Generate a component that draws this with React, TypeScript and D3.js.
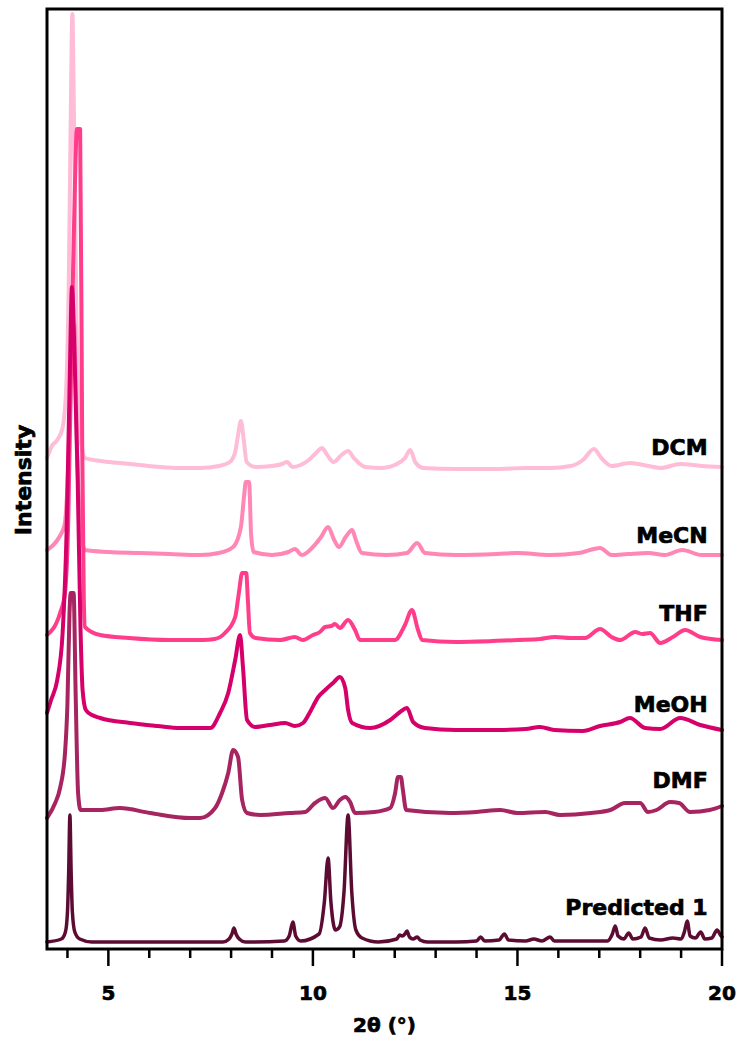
import React from 'react';
import * as d3 from 'd3';

// Powder X-ray diffraction patterns of sample 1 recovered from different solvents,
// stacked vertically and compared with the pattern predicted from the crystal structure.

const W = 740;
const H = 1038;
const plot = { left: 47, right: 722, top: 9, bottom: 949 };

const sampleNames = ['DCM', 'MeCN', 'THF', 'MeOH', 'DMF', 'Predicted 1'];
// vertical stacking offset of each pattern (intensity units)
const stackOffsets = [481, 394, 309, 219, 136, 7];

const thetaDomain = [3.5, 20];
const intensityDomain = [0, 940];
const majorTicks = [5, 10, 15, 20];
const minorTicks = [4, 6, 7, 8, 9, 11, 12, 13, 14, 16, 17, 18, 19];

// [2θ (°), intensity above the pattern's own baseline]
const dcmPattern: [number, number][] = [
  [3.5, 10], [3.62, 22], [3.75, 28], [3.88, 40], [3.97, 80], [4.03, 180], [4.08, 350], [4.12, 454],
  [4.16, 350], [4.22, 150], [4.3, 40], [4.38, 14], [4.43, 10], [4.8, 7], [5.28, 5], [5.77, 3],
  [6.26, 1], [6.75, 0], [7.24, 0], [7.7, 2], [7.97, 6], [8.1, 16], [8.17, 33], [8.24, 47],
  [8.31, 28], [8.38, 6], [8.6, 1], [9.0, 2], [9.25, 4], [9.37, 6], [9.5, 1], [9.7, 3],
  [9.9, 8], [10.1, 16], [10.22, 20], [10.35, 13], [10.5, 6], [10.7, 13], [10.86, 17], [11.0, 10],
  [11.28, 1], [11.7, 0], [12.0, 3], [12.25, 10], [12.38, 18], [12.5, 6], [12.7, 0], [13.5, -1],
  [14.5, -1], [15.2, 0], [15.8, 0], [16.3, 2], [16.6, 8], [16.87, 19], [17.05, 10], [17.3, 2],
  [17.75, 5], [18.2, 2], [18.5, 0], [18.98, 4], [19.5, 2], [20, 1],
];

const mecnPattern: [number, number][] = [
  [3.5, 5], [3.8, 18], [3.93, 30], [4.0, 70], [4.06, 140], [4.12, 230], [4.17, 230], [4.22, 130],
  [4.3, 40], [4.37, 12], [4.43, 5], [5.0, 3], [5.77, 2], [6.5, 1], [7.24, 0], [7.7, 2],
  [8.05, 8], [8.24, 28], [8.32, 60], [8.36, 73], [8.44, 73], [8.49, 20], [8.55, 3], [9.0, 0],
  [9.4, 3], [9.56, 6], [9.73, 0], [10.0, 8], [10.2, 18], [10.37, 28], [10.52, 15], [10.64, 8],
  [10.8, 18], [10.96, 25], [11.05, 15], [11.2, 2], [11.8, 0], [12.3, 2], [12.55, 12], [12.74, 2],
  [13.5, 0], [14.5, 1], [15.0, 2], [15.8, 0], [16.5, 2], [17.02, 7], [17.3, 0], [17.7, 1],
  [18.2, 2], [18.6, 0], [19.03, 5], [19.5, 0], [20, 0],
];

const thfPattern: [number, number][] = [
  [3.5, 5], [3.82, 27], [3.94, 47], [4.02, 120], [4.1, 300], [4.18, 450], [4.23, 511], [4.31, 511],
  [4.36, 200], [4.4, 40], [4.43, 13], [4.8, 5], [5.5, 2], [6.5, 0], [7.3, 0], [7.6, 1],
  [7.85, 7], [8.1, 23], [8.19, 47], [8.27, 67], [8.37, 67], [8.41, 40], [8.46, 7], [8.6, 2],
  [9.2, 0], [9.56, 3], [9.75, 0], [10.0, 5], [10.17, 8], [10.3, 13], [10.45, 14], [10.54, 16],
  [10.66, 12], [10.86, 20], [11.03, 10], [11.15, 0], [12.0, 0], [12.25, 15], [12.42, 30], [12.57, 10],
  [12.67, 0], [13.5, -2], [15.0, 0], [15.55, 1], [15.92, 3], [16.3, 2], [16.65, 2], [17.02, 11],
  [17.3, 3], [17.51, 0], [17.88, 8], [18.05, 6], [18.24, 7], [18.49, -3], [18.8, 3], [19.1, 10],
  [19.47, 3], [20, 0],
];

const meohPattern: [number, number][] = [
  [3.5, 17], [3.6, 30], [3.75, 50], [3.88, 96], [3.98, 200], [4.06, 360], [4.11, 443], [4.17, 380],
  [4.25, 250], [4.32, 100], [4.37, 40], [4.45, 20], [4.6, 15], [4.8, 12], [5.53, 7], [6.2, 4],
  [6.75, 2], [7.49, 2], [7.73, 17], [7.93, 37], [8.1, 70], [8.22, 95], [8.29, 63], [8.39, 10],
  [8.59, 3], [8.95, 5], [9.32, 7], [9.56, 4], [9.76, 7], [9.93, 18], [10.13, 33], [10.3, 40],
  [10.49, 47], [10.66, 53], [10.79, 42], [10.86, 20], [10.96, 7], [11.4, 2], [11.89, 10], [12.13, 18],
  [12.3, 22], [12.45, 8], [12.74, 2], [13.5, 0], [14.5, 0], [15.2, 1], [15.55, 3], [15.9, 0],
  [16.6, -1], [17.02, 4], [17.51, 8], [17.75, 12], [18.12, 2], [18.49, 1], [18.98, 12], [19.47, 5],
  [20, 0],
];

const dmfPattern: [number, number][] = [
  [3.5, -5], [3.7, 10], [3.82, 25], [3.94, 60], [4.0, 110], [4.05, 200], [4.08, 220], [4.15, 220],
  [4.2, 120], [4.26, 20], [4.32, 3], [4.8, 3], [5.28, 5], [6.02, 0], [7.0, -5], [7.24, -5],
  [7.61, 5], [7.78, 20], [7.93, 40], [8.05, 63], [8.17, 56], [8.27, 13], [8.39, 0], [8.71, -2],
  [9.44, 0], [9.81, 1], [10.05, 10], [10.3, 15], [10.49, 5], [10.66, 13], [10.79, 16], [10.91, 11],
  [11.03, 0], [11.5, 1], [11.89, 5], [12.01, 20], [12.08, 36], [12.15, 36], [12.2, 23], [12.28, 3],
  [13.35, 0], [14.0, 1], [14.58, 3], [15.0, 0], [15.68, 1], [16.04, -2], [16.8, 0], [17.27, 3],
  [17.63, 10], [18.0, 10], [18.19, 1], [18.4, 3], [18.73, 11], [18.95, 10], [19.22, 1], [19.7, 3],
  [20, 7],
];

const predictedPattern: [number, number][] = [
  [3.5, 0], [3.85, 3], [3.95, 10], [4.0, 30], [4.03, 70], [4.06, 127], [4.09, 70], [4.12, 30],
  [4.18, 10], [4.3, 3], [4.6, 0], [7.8, 0], [7.95, 3], [8.02, 8], [8.07, 14], [8.12, 8],
  [8.2, 3], [8.35, 0], [9.3, 1], [9.42, 6], [9.51, 20], [9.58, 6], [9.7, 1], [10.15, 8],
  [10.28, 40], [10.37, 84], [10.44, 40], [10.55, 12], [10.65, 15], [10.76, 50], [10.86, 127], [10.95, 50],
  [11.05, 12], [11.2, 4], [11.6, 0], [12.05, 3], [12.12, 7], [12.18, 6], [12.25, 8], [12.3, 11],
  [12.36, 5], [12.45, 3], [12.55, 5], [12.62, 2], [12.8, 0], [13.5, 0], [14.0, 1], [14.1, 5],
  [14.2, 1], [14.55, 2], [14.68, 8], [14.78, 2], [15.2, 1], [15.4, 3], [15.6, 1], [15.8, 5],
  [15.9, 1], [17.2, 1], [17.32, 8], [17.39, 16], [17.46, 6], [17.6, 3], [17.72, 9], [17.82, 3],
  [18.02, 5], [18.12, 14], [18.22, 4], [18.5, 2], [18.8, 4], [19.0, 3], [19.08, 10], [19.15, 21],
  [19.22, 6], [19.35, 4], [19.48, 10], [19.58, 3], [19.75, 4], [19.88, 12], [19.96, 7], [20, 5],
];

const patterns = [dcmPattern, mecnPattern, thfPattern, meohPattern, dmfPattern, predictedPattern];

// styling
const traceColors = ['#ffbcd6', '#ff86b5', '#ff3d8b', '#d6006a', '#a6245f', '#5c0b33'];
const traceWidths = [4, 4, 4, 4, 4, 3.5];
const labelLift = [13, 12, 19, 18, 25, 27];
const FONT = '"DejaVu Sans", "Liberation Sans", Arial, sans-serif';
// a thin outline thickens the bold face into a heavy black weight
const heavy = { stroke: '#000', strokeWidth: 0.7, paintOrder: 'stroke' as const };

export default function App() {
  const x = d3.scaleLinear().domain(thetaDomain).range([plot.left, plot.right]);
  const y = d3.scaleLinear().domain(intensityDomain).range([plot.bottom, plot.top]);

  return (
    <svg
      width={W}
      height={H}
      viewBox={`0 0 ${W} ${H}`}
      style={{ position: 'absolute', left: 0, top: 0, background: '#fff' }}
    >
      <rect x={0} y={0} width={W} height={H} fill="#fff" />
      {patterns.map((pts, i) => {
        const off = stackOffsets[i];
        const line = d3
          .line<[number, number]>()
          .x((d) => x(d[0]))
          .y((d) => y(d[1] + off))
          .curve(d3.curveMonotoneX);
        return (
          <path
            key={sampleNames[i]}
            d={line(pts) || ''}
            fill="none"
            stroke={traceColors[i]}
            strokeWidth={traceWidths[i]}
            strokeLinejoin="round"
            strokeLinecap="round"
          />
        );
      })}
      {sampleNames.map((name, i) => (
        <text
          key={name}
          x={x(19.65)}
          y={y(stackOffsets[i] + labelLift[i])}
          textAnchor="end"
          fontFamily={FONT}
          fontWeight="bold"
          fontSize={22}
          fill="#000"
          {...heavy}
        >
          {name}
        </text>
      ))}
      {/* frame */}
      <rect
        x={plot.left}
        y={plot.top}
        width={plot.right - plot.left}
        height={plot.bottom - plot.top}
        fill="none"
        stroke="#000"
        strokeWidth={3}
      />
      {/* x ticks */}
      {minorTicks.map((t) => (
        <line key={'m' + t} x1={x(t)} x2={x(t)} y1={plot.bottom} y2={plot.bottom + 9} stroke="#000" strokeWidth={2.5} />
      ))}
      {majorTicks.map((t) => (
        <g key={'M' + t}>
          <line x1={x(t)} x2={x(t)} y1={plot.bottom} y2={plot.bottom + 17} stroke="#000" strokeWidth={2.5} />
          <text
            x={x(t)}
            y={1000}
            textAnchor="middle"
            fontFamily={FONT}
            fontWeight="bold"
            fontSize={20}
            fill="#000"
            {...heavy}
          >
            {t}
          </text>
        </g>
      ))}
      <text
        x={(plot.left + plot.right) / 2}
        y={1032}
        textAnchor="middle"
        fontFamily={FONT}
        fontWeight="bold"
        fontSize={20}
        fill="#000"
        {...heavy}
      >
        2θ (°)
      </text>
      <text
        transform={`translate(31, ${(plot.top + plot.bottom) / 2 + 1}) rotate(-90)`}
        textAnchor="middle"
        fontFamily={FONT}
        fontWeight="bold"
        fontSize={22}
        fill="#000"
        {...heavy}
      >
        Intensity
      </text>
    </svg>
  );
}
